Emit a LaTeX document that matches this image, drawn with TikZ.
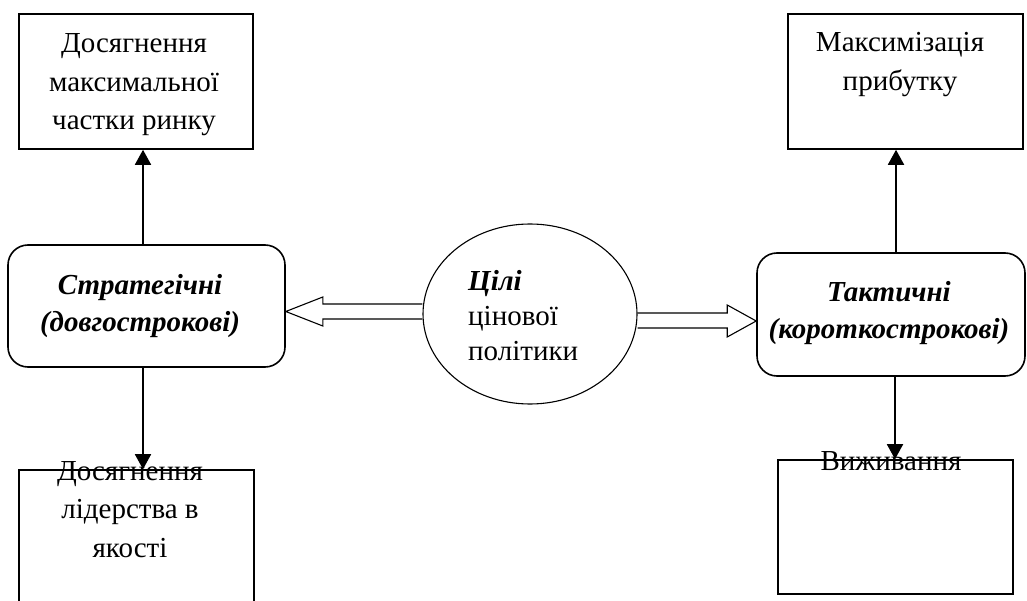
\documentclass[tikz,border=0pt]{standalone}
\usepackage{fontspec}
\setmainfont{Liberation Serif}
\usetikzlibrary{shapes.geometric,arrows.meta,positioning,calc}
\tikzset{every node/.append style={align=center}}
\tikzset{
    goalbox/.style={draw, line width=1.6pt, minimum width=235pt, minimum height=135pt, inner sep=0pt},
    kindbox/.style={draw, line width=1.6pt, rounded corners=20pt, inner sep=0pt},
    goaltext/.style={font=\fontsize{29}{38.5}\selectfont, inner sep=0pt, anchor=base},
    kindtext/.style={font=\fontsize{29}{37}\selectfont\bfseries\itshape, inner sep=0pt, anchor=base},
    arr/.style={line width=1.8pt, -{Triangle[width=16pt,length=15pt]}},
    blockarr/.style={line width=1.1pt, line join=miter}
}

\begin{document}
\begin{tikzpicture}[x=1pt,y=-1pt]
    \useasboundingbox (0,0) rectangle (1027,601);
    \clip (0,0) rectangle (1027,601);

    % Centre
    \node[draw, ellipse, line width=1.1pt, minimum width=214pt, minimum height=180pt, inner sep=0pt] (goal) at (530,314) {};
    \node[font=\fontsize{29}{35}\selectfont, inner sep=0pt, anchor=base west, align=left] (goaltxt) at (468,360) {\textbf{\textit{Цілі}}\\цінової\\політики};

    % Strategic side
    \node[kindbox, minimum width=277pt, minimum height=122pt] (strat) at (146.5,306) {};
    \node[kindtext] (strattxt) at (140,331) {Стратегічні\\(довгострокові)};
    \node[goalbox, minimum width=234pt] (market) at (136,81.5) {};
    \node[goaltext] (markettxt) at (134,130) {Досягнення\\максимальної\\частки ринку};
    \node[goalbox, minimum height=180pt] (quality) at (136.5,560) {};
    \node[goaltext] (qualitytxt) at (130,557) {Досягнення\\лідерства в\\якості};

    % Tactical side
    \node[kindbox, minimum width=268pt, minimum height=123pt] (tact) at (891,314.5) {};
    \node[kindtext] (tacttxt) at (889,338) {Тактичні\\(короткострокові)};
    \node[goalbox] (profit) at (905.5,81.5) {};
    \node[goaltext] (profittxt) at (900,90.5) {Максимізація\\прибутку};
    \node[goalbox, minimum height=134pt] (surv) at (895.5,527) {};
    \node[goaltext] (survtxt) at (891,470) {Виживання};

    % Thin arrows
    \draw[arr] ([xshift=-3.5pt]strat.north) -- ([xshift=-3.5pt]strat.north |- market.south);
    \draw[arr] ([xshift=-3.5pt]strat.south) -- ([xshift=-3.5pt]strat.south |- quality.north);
    \draw[arr] ([xshift=5pt]tact.north) -- ([xshift=5pt]tact.north |- profit.south);
    \draw[arr] ([xshift=4pt]tact.south) -- ([xshift=4pt]tact.south |- surv.north);

    % Block arrows
    \draw[blockarr] let \p1=(strat.east), \p2=(goal.west) in
        (\x2,-304pt) -- (\x1+37pt,-304pt) -- (\x1+37pt,-297pt) -- (\x1,-311.5pt)
        -- (\x1+37pt,-326pt) -- (\x1+37pt,-319pt) -- (\x2,-319pt);
    \draw[blockarr] let \p1=(goal.east), \p2=(tact.west) in
        (\x1,-313pt) -- (\x2-29pt,-313pt) -- (\x2-29pt,-305pt) -- (\x2,-321pt)
        -- (\x2-29pt,-337pt) -- (\x2-29pt,-328pt) -- (\x1,-328pt);
\end{tikzpicture}
\end{document}
